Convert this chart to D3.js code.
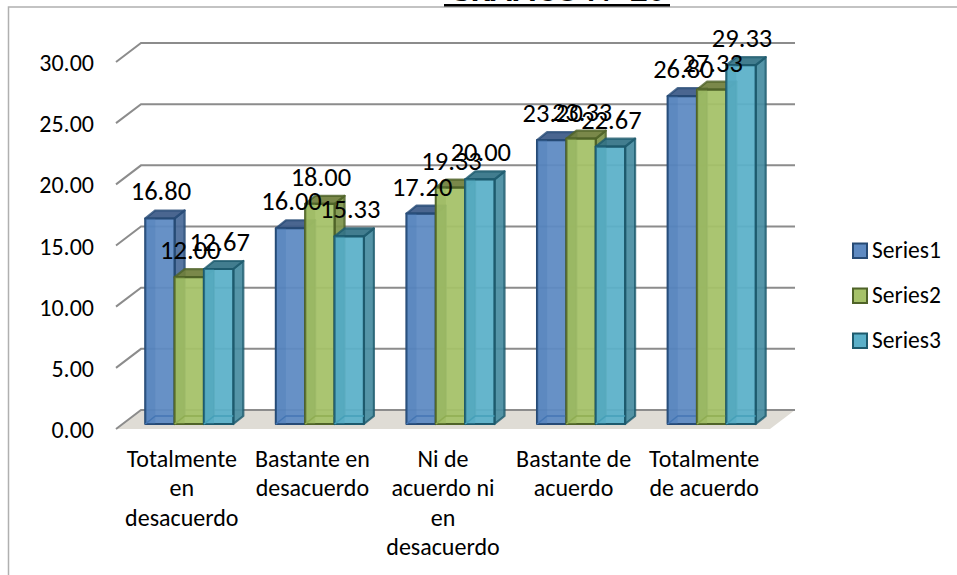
<!DOCTYPE html>
<html><head><meta charset="utf-8">
<script src="https://cdnjs.cloudflare.com/ajax/libs/d3/7.8.5/d3.min.js"></script>
<style>html,body{margin:0;padding:0;background:#fff}svg{display:block}text{font-family:"Carlito","Liberation Sans","Open Sans",sans-serif;fill:#000}</style>
</head><body><svg id="c" width="957" height="575"></svg>
<script>
const categories=[["Totalmente","en","desacuerdo"],["Bastante en","desacuerdo"],["Ni de","acuerdo ni","en","desacuerdo"],["Bastante de","acuerdo"],["Totalmente","de acuerdo"]];
const seriesNames=["Series1","Series2","Series3"];
const series1=[16.80,16.00,17.20,23.20,26.80];
const series2=[12.00,18.00,19.33,23.33,27.33];
const series3=[12.67,15.33,20.00,22.67,29.33];
const yTicks=[0,5,10,15,20,25,30];
const title="GRAFICO N° 20";
const allSeries=[series1,series2,series3];
const palette=[{f:"#5e8ac2",t:"#3c5a88",s:"#4a6c9a",e:"#264a75",i:"#4476b4"},{f:"#a5c168",t:"#707f3c",s:"#7e944a",e:"#4f6328",i:"#8fad52"},{f:"#5bb0c9",t:"#347386",s:"#488da1",e:"#1d5a6d",i:"#46a0b9"}];
const svg=d3.select("#c");
const y=d3.scaleLinear().domain([0,30]).range([424,57]);
const x0=d3.scaleBand().domain(d3.range(5)).range([124,777]).paddingInner(0.326).paddingOuter(0.163);
const x1=d3.scaleBand().domain(d3.range(3)).range([0,x0.bandwidth()]);
const dx=10,dy=8,gx=25,gy=19,yg=d3.scaleLinear().domain([0,30]).range([429,62]);
svg.append("path").attr("d","M8.5,575V7H957").attr("fill","none").attr("stroke","#b0b0b0").attr("stroke-width",1.5);
svg.append("text").attr("x",557).attr("y",0.5).attr("text-anchor","middle").attr("font-size",35).attr("font-weight",700).text(title);
svg.append("rect").attr("x",444).attr("y",4).attr("width",226).attr("height",2.5).attr("fill","#000");
svg.append("path").attr("d",`M116,${yg(0)}L${116+gx},${yg(0)-gy}H795L770,${yg(0)}Z`).attr("fill","#dfdcd5");
yTicks.forEach(t=>{
 svg.append("path").attr("d",`M116,${yg(t)}L${116+gx},${yg(t)-gy}H795`).attr("fill","none").attr("stroke","#8c8c8c").attr("stroke-width",2);
 svg.append("text").attr("x",94).attr("y",yg(t)+9).attr("text-anchor","end").attr("font-size",24).text(t.toFixed(2));
});
categories.forEach((c,g)=>{
 allSeries.forEach((vals,k)=>{
  const p=palette[k],X=x0(g)+x1(k),W=x1.bandwidth(),Y=y(vals[g]),B=y(0);
  const a=svg.append("g").attr("stroke",p.e).attr("stroke-width",2.2).attr("stroke-linejoin","round");
  a.append("path").attr("d",`M${X+W},${Y}l${dx},${-dy}V${B-dy}l${-dx},${dy}Z`).attr("fill",p.s).attr("fill-opacity",.93).attr("stroke-opacity",.8);
  a.append("path").attr("d",`M${X},${Y}l${dx},${-dy}h${W}l${-dx},${dy}Z`).attr("fill",p.t).attr("fill-opacity",.93).attr("stroke-opacity",.8);
  a.append("rect").attr("x",X).attr("y",Y).attr("width",W).attr("height",B-Y).attr("fill",p.f).attr("fill-opacity",.94);
  a.append("rect").attr("x",X).attr("y",Y).attr("width",dx).attr("height",B-Y).attr("fill",p.i).attr("fill-opacity",.3).attr("stroke","none");
  a.append("path").attr("d",`M${X},${B}l${dx},${-dy}H${X+W}`).attr("fill","none").attr("stroke",p.i).attr("stroke-width",1.5);
 });
});
categories.forEach((c,g)=>{
 allSeries.forEach((vals,k)=>{
  svg.append("text").attr("x",x0(g)+x1(k)+x1.bandwidth()/2+1).attr("y",y(vals[g])-18).attr("text-anchor","middle").attr("font-size",26.5).text(vals[g].toFixed(2));
 });
 const cx=x0(g)+x0.bandwidth()/2-7.5;
 c.forEach((l,i)=>svg.append("text").attr("x",cx).attr("y",467+i*29.3).attr("text-anchor","middle").attr("font-size",24).text(l));
});
seriesNames.forEach((n,k)=>{
 const Y=d3.scalePoint().domain(seriesNames).range([250.5,340.5])(n);
 svg.append("rect").attr("x",853).attr("y",Y-7).attr("width",14).attr("height",14.5).attr("fill",palette[k].f).attr("stroke",palette[k].e).attr("stroke-width",2);
 svg.append("text").attr("x",872).attr("y",Y+7.5).attr("font-size",23.5).text(n);
});
</script></body></html>
